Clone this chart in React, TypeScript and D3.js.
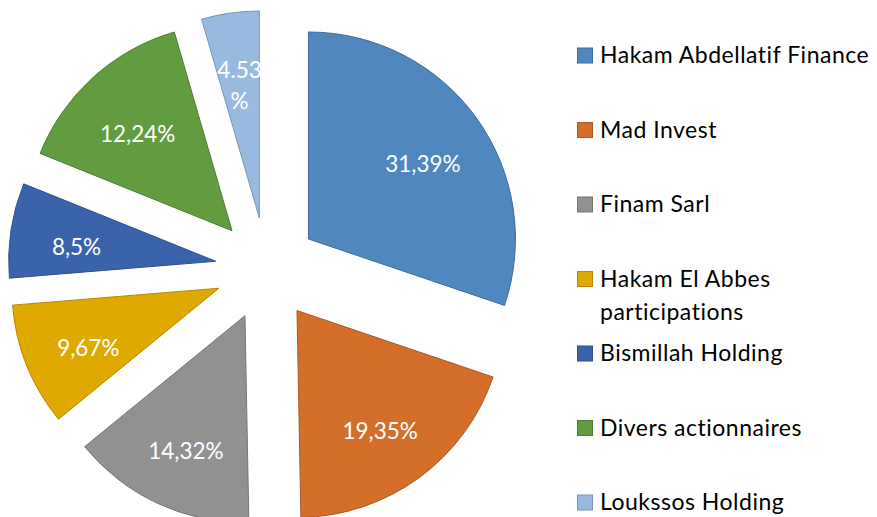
import React from "react";
import * as d3 from "d3";

const categories = [
  "Hakam Abdellatif Finance",
  "Mad Invest",
  "Finam Sarl",
  "Hakam El Abbes participations",
  "Bismillah Holding",
  "Divers actionnaires",
  "Loukssos Holding",
];
// slice sizes as drawn in the picture
const values = [30.2, 19.5, 14.4, 9.6, 7.4, 14.4, 4.5];
// data label texts as printed on the chart
const valueLabels = ["31,39%", "19,35%", "14,32%", "9,67%", "8,5%", "12,24%", "4.53 %"];
const legendLines = [
  ["Hakam Abdellatif Finance"],
  ["Mad Invest"],
  ["Finam Sarl"],
  ["Hakam El Abbes", "participations"],
  ["Bismillah Holding"],
  ["Divers actionnaires"],
  ["Loukssos Holding"],
];
const colors = ["#4F87BE", "#D36F2B", "#919191", "#E0A900", "#3A63AC", "#629C40", "#98BAE0"];

const W = 877;
const H = 517;
const CX = 266.6;
const CY = 269;
const R = 207;
const EXPLODE = 51.5;
const FONT = "Lato, 'Open Sans', sans-serif";

export default function App() {
  const pie = d3
    .pie<number>()
    .sort(null)
    .startAngle(0)
    .endAngle(2 * Math.PI)
    .value((d) => d);
  const arcs = pie(values);
  const arcGen = d3.arc<d3.PieArcDatum<number>>().innerRadius(0).outerRadius(R);

  const legendY = d3
    .scalePoint<number>()
    .domain(d3.range(categories.length))
    .range([63, 510]);

  return (
    <svg
      width={W}
      height={H}
      style={{ position: "absolute", left: 0, top: 0, background: "#fff" }}
      fontFamily={FONT}
    >
      {arcs.map((a, i) => {
        const mid = (a.startAngle + a.endAngle) / 2;
        const dx = Math.sin(mid) * EXPLODE;
        const dy = -Math.cos(mid) * EXPLODE;
        const lr = R * 0.68;
        const lx = Math.sin(mid) * lr;
        const ly = -Math.cos(mid) * lr + 7;
        const lines = valueLabels[i].includes(" ") ? valueLabels[i].split(" ") : [valueLabels[i]];
        return (
          <g key={i} transform={`translate(${CX + dx},${CY + dy})`}>
            <path
              d={arcGen(a) || ""}
              fill={colors[i]}
              stroke={d3.color(colors[i])!.darker(0.6).formatHex()}
              strokeWidth={1}
            />
            <text
              x={lx}
              y={ly - ((lines.length - 1) * 31) / 2}
              textAnchor="middle"
              fill="#fff"
              fontSize={22.5}
            >
              {lines.map((t, j) => (
                <tspan key={j} x={lx} dy={j === 0 ? "0.36em" : 31}>
                  {t}
                </tspan>
              ))}
            </text>
          </g>
        );
      })}
      {categories.map((c, i) => {
        const y = legendY(i)!;
        return (
          <g key={c}>
            <rect
              x={577.5}
              y={y - 15}
              width={15}
              height={15}
              fill={colors[i]}
              stroke={d3.color(colors[i])!.darker(0.6).formatHex()}
              strokeWidth={1}
            />
            <text x={600} y={y} fontSize={23} letterSpacing={0.5} fill="#000">
              {legendLines[i].map((t, j) => (
                <tspan key={j} x={600} dy={j === 0 ? 0 : 33}>
                  {t}
                </tspan>
              ))}
            </text>
          </g>
        );
      })}
    </svg>
  );
}
